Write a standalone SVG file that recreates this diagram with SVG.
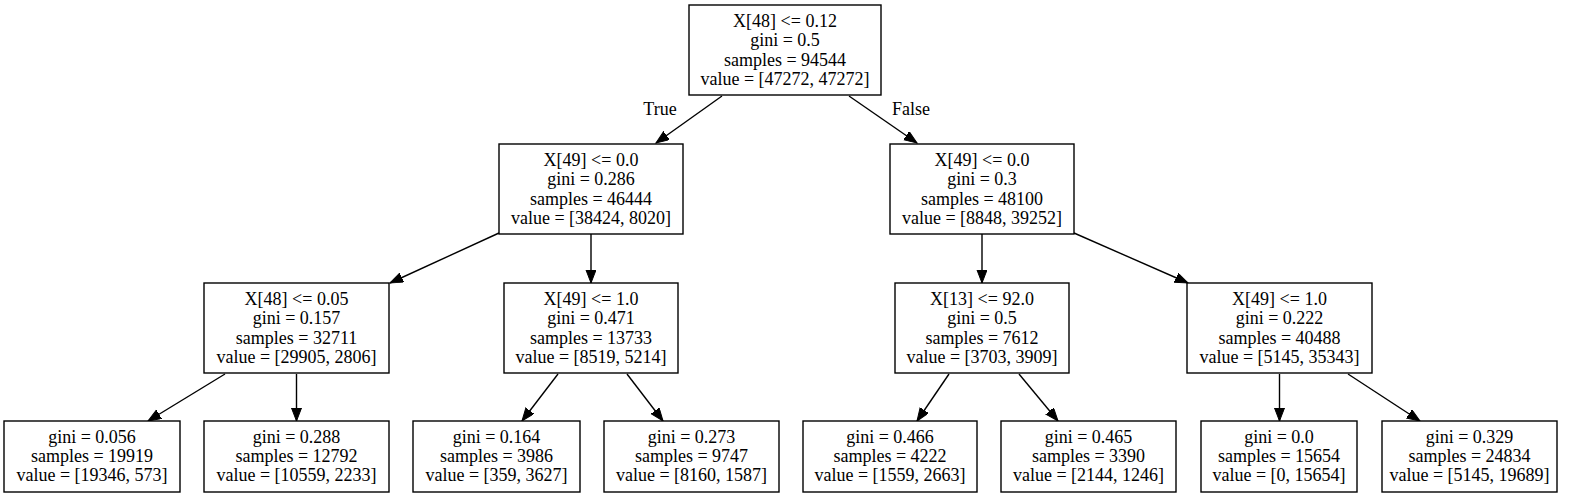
<svg xmlns="http://www.w3.org/2000/svg" width="1571" height="497" viewBox="0 0 1571 497">
<style>
rect.n{fill:#fff;stroke:#000;stroke-width:1.4}
text{font-family:"Liberation Serif","Times New Roman",serif;font-size:18px;fill:#000;text-anchor:middle}
.e line{stroke:#000;stroke-width:1.4;marker-end:url(#ah)}
</style>
<defs>
<marker id="ah" markerUnits="userSpaceOnUse" markerWidth="14" markerHeight="11" refX="13" refY="5" orient="auto">
<path d="M0,0 L13,5 L0,10 Z" fill="#000" stroke="#000" stroke-width="1"/>
</marker>
</defs>
<rect width="1571" height="497" fill="#fff"/>
<g class="e" id="edges">
<line x1="722" y1="96" x2="656" y2="143"/>
<line x1="849" y1="96" x2="917" y2="143"/>
<line x1="499" y1="233" x2="390" y2="283"/>
<line x1="591" y1="234" x2="591" y2="283"/>
<line x1="982" y1="234" x2="982" y2="283"/>
<line x1="1074" y1="233" x2="1188" y2="283"/>
<line x1="225" y1="374" x2="148" y2="421"/>
<line x1="296.5" y1="374" x2="296.5" y2="421"/>
<line x1="558" y1="374" x2="522" y2="421"/>
<line x1="627" y1="374" x2="663" y2="421"/>
<line x1="949" y1="374" x2="917" y2="421"/>
<line x1="1019" y1="374" x2="1058" y2="421"/>
<line x1="1279.5" y1="374" x2="1279.5" y2="421"/>
<line x1="1348" y1="374" x2="1420" y2="421"/>
<text x="660" y="115">True</text>
<text x="911" y="115">False</text>
</g>
<g id="n0"><rect class="n" x="689" y="5" width="192" height="90"/>
<text x="785" y="27">X[48] &lt;= 0.12</text><text x="785" y="46.3">gini = 0.5</text><text x="785" y="65.6">samples = 94544</text><text x="785" y="85">value = [47272, 47272]</text></g>
<g id="n1"><rect class="n" x="499" y="144" width="184" height="90"/>
<text x="591" y="166">X[49] &lt;= 0.0</text><text x="591" y="185.3">gini = 0.286</text><text x="591" y="204.6">samples = 46444</text><text x="591" y="224">value = [38424, 8020]</text></g>
<g id="n2"><rect class="n" x="890" y="144" width="184" height="90"/>
<text x="982" y="166">X[49] &lt;= 0.0</text><text x="982" y="185.3">gini = 0.3</text><text x="982" y="204.6">samples = 48100</text><text x="982" y="224">value = [8848, 39252]</text></g>
<g id="n3"><rect class="n" x="204" y="283" width="185" height="90"/>
<text x="296.5" y="305">X[48] &lt;= 0.05</text><text x="296.5" y="324.3">gini = 0.157</text><text x="296.5" y="343.6">samples = 32711</text><text x="296.5" y="363">value = [29905, 2806]</text></g>
<g id="n4"><rect class="n" x="504" y="283" width="174" height="90"/>
<text x="591" y="305">X[49] &lt;= 1.0</text><text x="591" y="324.3">gini = 0.471</text><text x="591" y="343.6">samples = 13733</text><text x="591" y="363">value = [8519, 5214]</text></g>
<g id="n5"><rect class="n" x="895" y="283" width="174" height="90"/>
<text x="982" y="305">X[13] &lt;= 92.0</text><text x="982" y="324.3">gini = 0.5</text><text x="982" y="343.6">samples = 7612</text><text x="982" y="363">value = [3703, 3909]</text></g>
<g id="n6"><rect class="n" x="1187" y="283" width="185" height="90"/>
<text x="1279.5" y="305">X[49] &lt;= 1.0</text><text x="1279.5" y="324.3">gini = 0.222</text><text x="1279.5" y="343.6">samples = 40488</text><text x="1279.5" y="363">value = [5145, 35343]</text></g>
<g id="n7"><rect class="n" x="4" y="421" width="176" height="71"/>
<text x="92" y="443">gini = 0.056</text><text x="92" y="462">samples = 19919</text><text x="92" y="481">value = [19346, 573]</text></g>
<g id="n8"><rect class="n" x="204" y="421" width="185" height="71"/>
<text x="296.5" y="443">gini = 0.288</text><text x="296.5" y="462">samples = 12792</text><text x="296.5" y="481">value = [10559, 2233]</text></g>
<g id="n9"><rect class="n" x="413" y="421" width="167" height="71"/>
<text x="496.5" y="443">gini = 0.164</text><text x="496.5" y="462">samples = 3986</text><text x="496.5" y="481">value = [359, 3627]</text></g>
<g id="n10"><rect class="n" x="604" y="421" width="175" height="71"/>
<text x="691.5" y="443">gini = 0.273</text><text x="691.5" y="462">samples = 9747</text><text x="691.5" y="481">value = [8160, 1587]</text></g>
<g id="n11"><rect class="n" x="803" y="421" width="174" height="71"/>
<text x="890" y="443">gini = 0.466</text><text x="890" y="462">samples = 4222</text><text x="890" y="481">value = [1559, 2663]</text></g>
<g id="n12"><rect class="n" x="1001" y="421" width="175" height="71"/>
<text x="1088.5" y="443">gini = 0.465</text><text x="1088.5" y="462">samples = 3390</text><text x="1088.5" y="481">value = [2144, 1246]</text></g>
<g id="n13"><rect class="n" x="1201" y="421" width="156" height="71"/>
<text x="1279" y="443">gini = 0.0</text><text x="1279" y="462">samples = 15654</text><text x="1279" y="481">value = [0, 15654]</text></g>
<g id="n14"><rect class="n" x="1382" y="421" width="175" height="71"/>
<text x="1469.5" y="443">gini = 0.329</text><text x="1469.5" y="462">samples = 24834</text><text x="1469.5" y="481">value = [5145, 19689]</text></g>
</svg>
